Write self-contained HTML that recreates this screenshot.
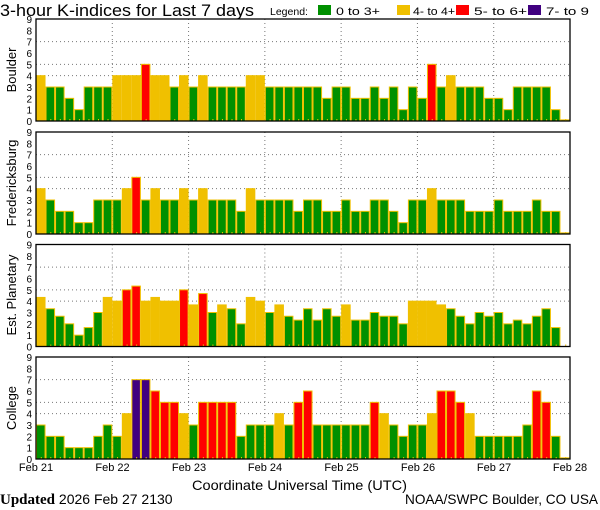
<!DOCTYPE html>
<html><head><meta charset="utf-8"><style>
body{margin:0;background:#fff;width:600px;height:510px;overflow:hidden}
svg{display:block}
text{font-family:"Liberation Sans",sans-serif;fill:#000}
</style></head><body>
<svg id="s" width="600" height="510" xmlns="http://www.w3.org/2000/svg">
<text x="0" y="16" font-size="17" textLength="254" lengthAdjust="spacingAndGlyphs">3-hour K-indices for Last 7 days</text>
<text x="270" y="15" font-size="10.5">Legend:</text>
<rect x="318" y="5" width="13" height="10" fill="#009000"/><text x="336" y="15" font-size="11" textLength="44" lengthAdjust="spacingAndGlyphs">0 to 3+</text>
<rect x="397" y="5" width="13" height="10" fill="#f0c000"/><text x="413" y="15" font-size="11" textLength="42" lengthAdjust="spacingAndGlyphs">4- to 4+</text>
<rect x="456" y="5" width="13" height="10" fill="#ff0000"/><text x="474" y="15" font-size="11" textLength="53" lengthAdjust="spacingAndGlyphs">5- to 6+</text>
<rect x="528" y="5" width="13" height="10" fill="#400080"/><text x="546" y="15" font-size="11" textLength="43" lengthAdjust="spacingAndGlyphs">7- to 9</text>
<text transform="translate(16,70) rotate(-90)" text-anchor="middle" font-size="13">Boulder</text>
<text transform="translate(16,183) rotate(-90)" text-anchor="middle" font-size="13">Fredericksburg</text>
<text transform="translate(16,295) rotate(-90)" text-anchor="middle" font-size="13">Est. Planetary</text>
<text transform="translate(16,408) rotate(-90)" text-anchor="middle" font-size="13">College</text>
<g font-size="11" text-anchor="middle">
<text x="36" y="471">Feb 21</text><text x="112.5" y="471">Feb 22</text><text x="189" y="471">Feb 23</text><text x="265" y="471">Feb 24</text><text x="341.5" y="471">Feb 25</text><text x="418" y="471">Feb 26</text><text x="494" y="471">Feb 27</text><text x="570" y="471">Feb 28</text>
</g>
<text x="192" y="490" font-size="14" textLength="215" lengthAdjust="spacingAndGlyphs">Coordinate Universal Time (UTC)</text>
<text x="0" y="504" font-size="14"><tspan font-family="Liberation Serif,serif" font-weight="bold" font-size="15">Updated</tspan> 2026 Feb 27 2130</text>
<text x="405" y="504" font-size="14" textLength="193" lengthAdjust="spacingAndGlyphs">NOAA/SWPC Boulder, CO USA</text>
<g id="g"></g>
</svg>
<script>
var D={
b:[4,3,3,2,1,3,3,3, 4,4,4,5,4,4,3,4, 3,4,3,3,3,3,4,4, 3,3,3,3,3,3,2,3, 3,2,2,3,2,3,1,3, 2,5,3,4,3,3,3,2, 2,1,3,3,3,3,1,0.1],
f:[4,3,2,2,1,1,3,3, 3,4,5,3,4,3,3,4, 3,4,3,3,3,2,4,3, 3,3,3,2,3,3,2,2, 3,2,2,3,3,2,1,3, 3,4,3,3,3,2,2,2, 3,2,2,2,3,2,2,0.1],
p:[4.33,3.33,2.67,2,1,1.67,3,4.33, 4,5,5.33,4,4.33,4,4,5, 3.67,4.67,3,3.67,3.33,2,4.33,4, 3,3.67,2.67,2.33,3.33,2.33,3.33,2.67, 3.67,2.33,2.33,3,2.67,2.67,2,4, 4,4,3.67,3.33,2.67,2,3,2.67, 3,2,2.33,2,2.67,3.33,1.67,0],
c:[3,2,2,1,1,1,2,3, 2,4,7,7,6,5,5,4, 3,5,5,5,5,2,3,3, 3,4,3,5,6,3,3,3, 3,3,3,5,4,3,2,3, 3,4,6,6,5,4,2,2, 2,2,2,3,6,5,2,0.1]};
var tops=[19,132,244.5,357],keys=['b','f','p','c'],H=102,L=36,R=570,u=H/9,bw=(R-L)/56;
var h='';
function col(v){return v<3.5?'#009000':v<4.5?'#f0c000':v<6.5?'#ff0000':'#400080';}
for(var k=0;k<4;k++){var t=tops[k],bot=t+H;
 [4,5,7].forEach(function(l){h+='<line x1="'+L+'" x2="'+R+'" y1="'+(bot-l*u)+'" y2="'+(bot-l*u)+'" stroke="#777" stroke-dasharray="1,3"/>';});
 for(var d=1;d<7;d++){var x=L+d*8*bw;h+='<line x1="'+x+'" x2="'+x+'" y1="'+t+'" y2="'+bot+'" stroke="#777" stroke-dasharray="1,3"/>';}
 var a=D[keys[k]];
 for(var i=0;i<56;i++){var v=a[i],x=L+i*bw;
  if(v>0){var y=bot-v*u;h+='<rect x="'+(x+0.5)+'" y="'+y+'" width="'+(bw-1)+'" height="'+(v*u)+'" fill="'+col(v)+'" stroke="#f0c000" stroke-width="1"/>';}
  h+='<rect x="'+(x+bw/2)+'" y="'+(bot-2)+'" width="1" height="2" fill="#f0c000"/>';}
 h+='<rect x="'+L+'" y="'+t+'" width="'+(R-L)+'" height="'+H+'" fill="none" stroke="#000" stroke-width="1.3"/>';
 for(var l=0;l<=9;l++){h+='<text x="32" y="'+(bot-l*u+4)+'" font-size="10" text-anchor="end">'+l+'</text>';}
}
document.getElementById('g').innerHTML=h;
</script>
</body></html>
